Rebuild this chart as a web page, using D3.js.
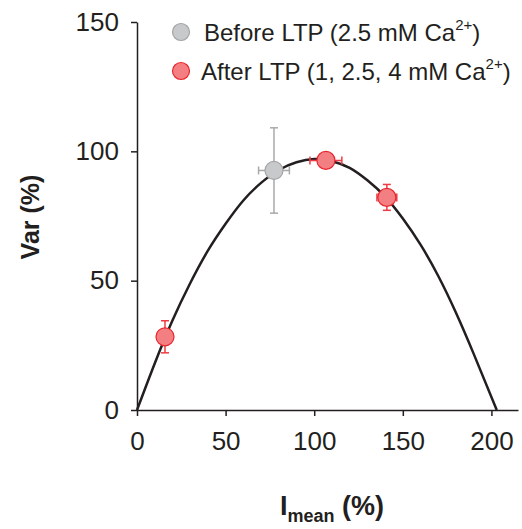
<!DOCTYPE html>
<html>
<head>
<meta charset="utf-8">
<script src="https://cdn.jsdelivr.net/npm/d3@7"></script>
<style>
  body { margin: 0; background: #fff; }
  text { font-family: "Liberation Sans", Arial, sans-serif; fill: #231f20; }
</style>
</head>
<body>
<svg id="chart"></svg>
<script>
// values
const seriesNames = ["Before LTP (2.5 mM Ca", "After LTP (1, 2.5, 4 mM Ca"];
const beforePts = [{ x: 77.3, y: 92.6, ex: 8.7, ey: 16.5 }];
const afterPts = [
  { x: 15.8, y: 28.3, ex: 0, ey: 6.2 },
  { x: 106.6, y: 96.5, ex: 9.0, ey: 0.8 },
  { x: 141.0, y: 82.2, ex: 5.6, ey: 5.0 }
];
const fitI = [0, 10, 20, 30, 40, 50, 60, 70, 80, 90, 100, 110, 120, 130, 140, 150, 160, 170, 180, 190, 203];
const fitVar = [0, 18, 34.6, 49, 61.6, 72, 81, 87.8, 92.8, 95.8, 97, 96.2, 93.6, 88.8, 82.5, 74, 63.9, 51.8, 37.6, 21.7, 0];
const xTicks = [0, 50, 100, 150, 200];
const yTicks = [0, 50, 100, 150];

const W = 522, H = 529;
const svg = d3.select("svg#chart").attr("width", W).attr("height", H);

const x = d3.scaleLinear().domain([0, 215]).range([137, 518]);
const y = d3.scaleLinear().domain([0, 150]).range([410, 22]);

// axes
const xAxis = svg.append("g").attr("transform", "translate(0,410)")
  .call(d3.axisBottom(x).tickValues(xTicks).tickSize(6).tickPadding(16).tickSizeOuter(0));
const yAxis = svg.append("g").attr("transform", "translate(137,0)")
  .call(d3.axisLeft(y).tickValues(yTicks).tickSize(6).tickPadding(12).tickSizeOuter(0));
[xAxis, yAxis].forEach(a => {
  a.select(".domain").attr("stroke", "#231f20").attr("stroke-width", 1.5);
  a.selectAll(".tick line").attr("stroke", "#231f20").attr("stroke-width", 1.5);
  a.selectAll(".tick text").attr("font-size", 26).attr("fill", "#231f20")
    .attr("font-family", "Liberation Sans, Arial, sans-serif");
});

// fit curve
const fit = fitI.map((d, i) => [d, fitVar[i]]);
svg.append("path").datum(fit)
  .attr("fill", "none").attr("stroke", "#231f20").attr("stroke-width", 2.5)
  .attr("d", d3.line().x(d => x(d[0])).y(d => y(d[1])).curve(d3.curveNatural));

// points with error bars
function drawPoints(data, fill, stroke, errColor) {
  const g = svg.append("g");
  const cap = 4;
  data.forEach(d => {
    if (d.ey > 0) {
      g.append("line").attr("x1", x(d.x)).attr("x2", x(d.x))
        .attr("y1", y(d.y - d.ey)).attr("y2", y(d.y + d.ey)).attr("stroke", errColor).attr("stroke-width", 1.5);
      [d.y - d.ey, d.y + d.ey].forEach(v => g.append("line")
        .attr("x1", x(d.x) - cap).attr("x2", x(d.x) + cap).attr("y1", y(v)).attr("y2", y(v))
        .attr("stroke", errColor).attr("stroke-width", 1.5));
    }
    if (d.ex > 0) {
      g.append("line").attr("y1", y(d.y)).attr("y2", y(d.y))
        .attr("x1", x(d.x - d.ex)).attr("x2", x(d.x + d.ex)).attr("stroke", errColor).attr("stroke-width", 1.5);
      [d.x - d.ex, d.x + d.ex].forEach(v => g.append("line")
        .attr("y1", y(d.y) - cap).attr("y2", y(d.y) + cap).attr("x1", x(v)).attr("x2", x(v))
        .attr("stroke", errColor).attr("stroke-width", 1.5));
    }
  });
  g.selectAll("circle").data(data).join("circle")
    .attr("cx", d => x(d.x)).attr("cy", d => y(d.y)).attr("r", 9)
    .attr("fill", fill).attr("stroke", stroke).attr("stroke-width", 1.2);
}
drawPoints(beforePts, "#c8c9cb", "#a3a4a6", "#a8a9ab");
drawPoints(afterPts, "#f47f82", "#e8262e", "#ef3b45");

// legend
const legend = [
  { name: seriesNames[0], fill: "#c8c9cb", stroke: "#a3a4a6", cy: 32, tx: 204 },
  { name: seriesNames[1], fill: "#f47f82", stroke: "#e8262e", cy: 71, tx: 201 }
];
legend.forEach(l => {
  svg.append("circle").attr("cx", 181).attr("cy", l.cy).attr("r", 8.5)
    .attr("fill", l.fill).attr("stroke", l.stroke).attr("stroke-width", 1.2);
  const t = svg.append("text").attr("x", l.tx).attr("y", l.cy + 9).attr("font-size", 24);
  t.append("tspan").text(l.name);
  t.append("tspan").attr("font-size", 15).attr("dy", -11).text("2+");
  t.append("tspan").attr("dy", 11).text(")");
});

// axis titles
const xl = svg.append("text").attr("x", 332).attr("y", 515).attr("text-anchor", "middle")
  .attr("font-size", 27).attr("font-weight", "bold");
xl.append("tspan").text("I");
xl.append("tspan").attr("font-size", 18).attr("dy", 7).text("mean");
xl.append("tspan").attr("dy", -7).text(" (%)");

svg.append("text").attr("transform", "translate(39,217) rotate(-90)")
  .attr("text-anchor", "middle").attr("font-size", 25).attr("font-weight", "bold").text("Var (%)");
</script>
</body>
</html>
